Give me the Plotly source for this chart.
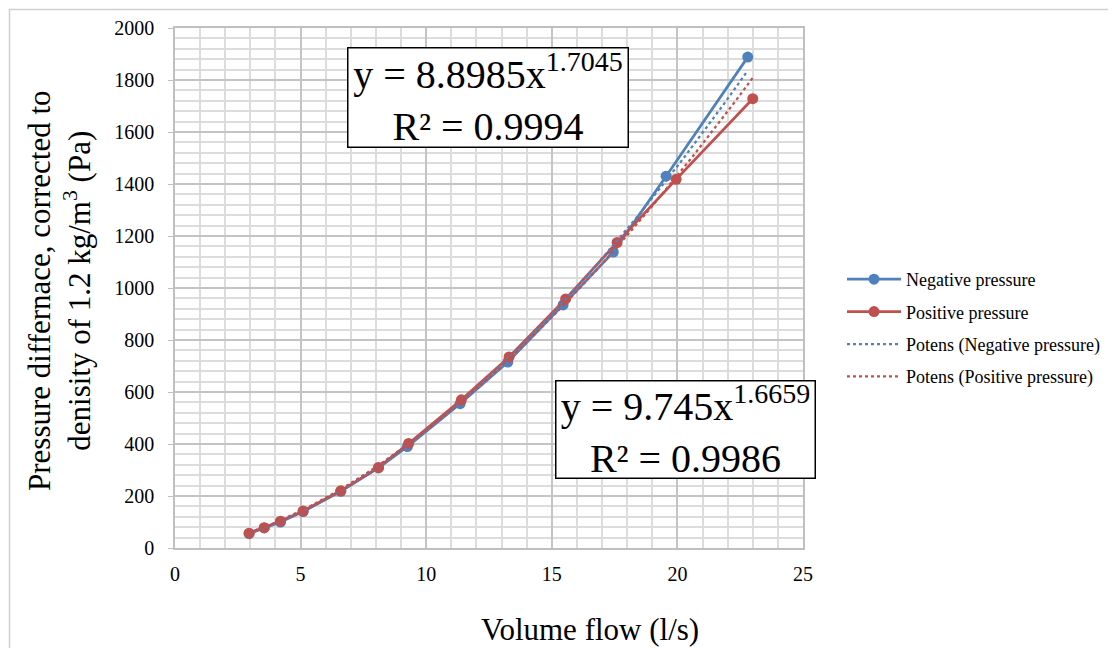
import numpy as np
import plotly.graph_objects as go

# ---- data ----
neg_flow = [2.95, 3.55, 4.2, 5.1, 6.6, 8.1, 9.25, 11.35, 13.25, 15.45, 17.45, 19.55, 22.8]
neg_dp = [55, 77, 100, 140, 218, 308, 390, 555, 715, 935, 1138, 1430, 1888]
pos_flow = [2.95, 3.55, 4.2, 5.1, 6.6, 8.1, 9.3, 11.4, 13.3, 15.55, 17.6, 19.95, 23.0]
pos_dp = [57, 78, 103, 142, 220, 310, 402, 570, 735, 958, 1175, 1418, 1728]

# power trendline coefficients shown in the chart
neg_a, neg_b, neg_r2 = 8.8985, 1.7045, 0.9994
pos_a, pos_b, pos_r2 = 9.745, 1.6659, 0.9986

BLUE = "#4F81BD"
RED = "#C0504D"
FONT = "Liberation Serif"

OFF = 8  # page body margin
W, H = 1116, 648
L, R, T, B = 175 - OFF, 313 + OFF, 28 - OFF, 100 + OFF
PW, PH = W - L - R, H - T - B


def px(xp):
    # xp is a screen pixel position
    return (xp - 175) / PW


def py(yp):
    return (548 - yp) / PH


fig = go.Figure()
fig.add_trace(go.Scatter(x=neg_flow, y=neg_dp, mode="lines+markers", name="Negative pressure",
                         line=dict(color=BLUE, width=2.75), marker=dict(color=BLUE, size=11),
                         legendgroup="a"))
fig.add_trace(go.Scatter(x=pos_flow, y=pos_dp, mode="lines+markers", name="Positive pressure",
                         line=dict(color=RED, width=2.75), marker=dict(color=RED, size=11),
                         legendgroup="b"))

xn = np.linspace(min(neg_flow), max(neg_flow), 80)
xp = np.linspace(min(pos_flow), max(pos_flow), 80)
fig.add_trace(go.Scatter(x=xn, y=neg_a * xn ** neg_b, mode="lines", name="Potens (Negative pressure)",
                         line=dict(color=BLUE, width=2.25, dash="dot"), legendgroup="c"))
fig.add_trace(go.Scatter(x=xp, y=pos_a * xp ** pos_b, mode="lines", name="Potens (Positive pressure)",
                         line=dict(color=RED, width=2.25, dash="dot"), legendgroup="d"))

fig.update_xaxes(range=[0, 25], dtick=5, showgrid=True, gridcolor="#C4C4C4", gridwidth=1.5,
                 minor=dict(dtick=1, showgrid=True, gridcolor="#DCDCDC", gridwidth=1.5),
                 showline=True, linecolor="#BFBFBF", linewidth=1.5, mirror=True,
                 ticks="", zeroline=False, ticklabelstandoff=7,
                 tickfont=dict(family=FONT, size=20, color="black"))
fig.update_yaxes(range=[0, 2000], dtick=200, showgrid=True, gridcolor="#C4C4C4", gridwidth=1.5,
                 minor=dict(dtick=40, showgrid=True, gridcolor="#DCDCDC", gridwidth=1.5),
                 showline=True, linecolor="#BFBFBF", linewidth=1.5, mirror=True,
                 ticks="outside", ticklen=5, tickcolor="#BFBFBF", zeroline=False,
                 ticklabelstandoff=10,
                 tickfont=dict(family=FONT, size=20, color="black"))

ann = []
ann.append(dict(text="Volume flow (l/s)", x=px(590), y=py(630), xref="paper", yref="paper",
                showarrow=False, font=dict(family=FONT, size=31, color="black"),
                xanchor="center", yanchor="middle"))
ann.append(dict(text="Pressure differnace, corrected to<br>denisity of 1.2 kg/m<sup>3</sup> (Pa)",
                x=px(59), y=py(291), xref="paper", yref="paper", textangle=-90,
                showarrow=False, font=dict(family=FONT, size=31, color="black"),
                xanchor="center", yanchor="middle"))
ann.append(dict(text=f"y = {neg_a}x<sup>{neg_b}</sup><br>R² = {neg_r2}",
                x=px(487.5), y=py(98), xref="paper", yref="paper", showarrow=False,
                font=dict(family=FONT, size=40, color="black"), bgcolor="white",
                bordercolor="black", borderwidth=1.5, borderpad=0, width=279, height=98,
                xanchor="center", yanchor="middle"))
ann.append(dict(text=f"y = {pos_a}x<sup>{pos_b}</sup><br>R² = {pos_r2}",
                x=px(685), y=py(429), xref="paper", yref="paper", showarrow=False,
                font=dict(family=FONT, size=40, color="black"), bgcolor="white",
                bordercolor="black", borderwidth=1.5, borderpad=0, width=258, height=96,
                xanchor="center", yanchor="middle"))

shapes = [
    dict(type="rect", xref="paper", yref="paper", x0=px(9.5), x1=px(1300), y0=py(9.5), y1=py(800),
         line=dict(color="#D0D0D0", width=1.5), layer="below"),
]

fig.update_layout(
    width=W, height=H, margin=dict(l=L, r=R, t=T, b=B, autoexpand=False),
    paper_bgcolor="white", plot_bgcolor="white",
    annotations=ann, shapes=shapes,
    legend=dict(x=px(842), y=py(328), xanchor="left", yanchor="middle",
                font=dict(family=FONT, size=18, color="black"),
                tracegroupgap=6, itemwidth=54, bgcolor="rgba(0,0,0,0)"),
    showlegend=True,
)

fig.write_html("out.html")
